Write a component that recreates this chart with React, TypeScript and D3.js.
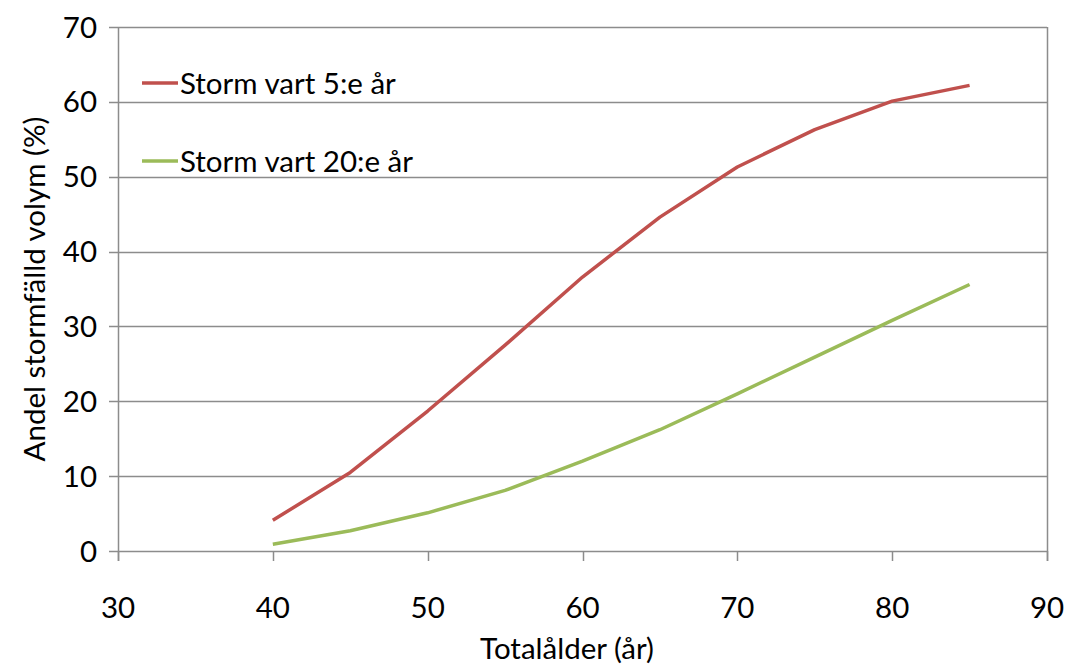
import { useEffect, useRef } from 'react';
import * as d3 from 'd3';

const ages = [40, 45, 50, 55, 60, 65, 70, 75, 80, 85];
const storm5 = [4.1, 10.5, 18.7, 27.5, 36.6, 44.6, 51.3, 56.3, 60.1, 62.2];
const storm20 = [0.9, 2.7, 5.1, 8.1, 12.0, 16.2, 21.0, 25.9, 30.8, 35.6];
const seriesNames = ['Storm vart 5:e år', 'Storm vart 20:e år'];
const seriesColors = ['#C0504D', '#9BBB59'];
const xTicks = [30, 40, 50, 60, 70, 80, 90];
const yTicks = [0, 10, 20, 30, 40, 50, 60, 70];

export default function App() {
  const svgRef = useRef<SVGSVGElement>(null);

  useEffect(() => {
    if (!svgRef.current) return;
    const svg = d3.select(svgRef.current);
    svg.selectAll('*').remove();

    const font = 'Lato, "Open Sans", sans-serif';
    const fontSize = 29.5;
    const grid = '#8c8c8c';

    // plot area in page pixels
    const left = 118, right = 1047, top = 27, bottom = 551;

    const x = d3.scaleLinear().domain([30, 90]).range([left, right]);
    const y = d3.scaleLinear().domain([0, 70]).range([bottom, top]);

    // Horizontal grid lines (extend left as tick marks)
    svg.append('g')
      .selectAll('line')
      .data(yTicks)
      .enter()
      .append('line')
      .attr('x1', left - 9)
      .attr('x2', right)
      .attr('y1', d => Math.round(y(d)) + 0.5)
      .attr('y2', d => Math.round(y(d)) + 0.5)
      .attr('stroke', grid)
      .attr('stroke-width', 1.5);

    // Y axis line and right border
    svg.append('line')
      .attr('x1', left + 0.5).attr('x2', left + 0.5)
      .attr('y1', top).attr('y2', bottom + 10)
      .attr('stroke', grid).attr('stroke-width', 1.5);
    svg.append('line')
      .attr('x1', right + 0.5).attr('x2', right + 0.5)
      .attr('y1', top).attr('y2', bottom + 10)
      .attr('stroke', grid).attr('stroke-width', 1.5);

    // X ticks
    svg.append('g')
      .selectAll('line')
      .data(xTicks)
      .enter()
      .append('line')
      .attr('x1', d => Math.round(x(d)) + 0.5)
      .attr('x2', d => Math.round(x(d)) + 0.5)
      .attr('y1', bottom)
      .attr('y2', bottom + 10)
      .attr('stroke', grid)
      .attr('stroke-width', 1.5);

    // Y tick labels
    svg.append('g')
      .selectAll('text')
      .data(yTicks)
      .enter()
      .append('text')
      .attr('x', 97)
      .attr('y', d => y(d) + 10.5)
      .attr('text-anchor', 'end')
      .attr('font-family', font)
      .attr('font-size', fontSize)
      .attr('fill', '#000')
      .text(d => d);

    // X tick labels
    svg.append('g')
      .selectAll('text')
      .data(xTicks)
      .enter()
      .append('text')
      .attr('x', d => x(d))
      .attr('y', 618)
      .attr('text-anchor', 'middle')
      .attr('font-family', font)
      .attr('font-size', fontSize)
      .attr('fill', '#000')
      .text(d => d);

    // Axis titles
    svg.append('text')
      .attr('x', 567)
      .attr('y', 659)
      .attr('text-anchor', 'middle')
      .attr('font-family', font)
      .attr('font-size', fontSize)
      .attr('fill', '#000')
      .text('Totalålder (år)');

    svg.append('text')
      .attr('transform', 'translate(45,289) rotate(-90)')
      .attr('text-anchor', 'middle')
      .attr('font-family', font)
      .attr('font-size', fontSize)
      .attr('fill', '#000')
      .text('Andel stormfälld volym (%)');

    // Lines
    const line = d3.line<[number, number]>()
      .x(d => x(d[0]))
      .y(d => y(d[1]));

    [storm5, storm20].forEach((vals, i) => {
      const pts = ages.map((a, j) => [a, vals[j]] as [number, number]);
      svg.append('path')
        .datum(pts)
        .attr('fill', 'none')
        .attr('stroke', seriesColors[i])
        .attr('stroke-width', 3.5)
        .attr('stroke-linejoin', 'round')
        .attr('d', line);
    });

    // Legend
    const legendY = [83, 161];
    seriesNames.forEach((name, i) => {
      svg.append('line')
        .attr('x1', 142).attr('x2', 178)
        .attr('y1', legendY[i]).attr('y2', legendY[i])
        .attr('stroke', seriesColors[i])
        .attr('stroke-width', 3.5);
      svg.append('text')
        .attr('x', 180)
        .attr('y', legendY[i] + 10.5)
        .attr('font-family', font)
        .attr('font-size', fontSize)
        .attr('fill', '#000')
        .text(name);
    });
  }, []);

  return (
    <svg
      ref={svgRef}
      width={1067}
      height={668}
      style={{ position: 'fixed', top: 0, left: 0, background: '#fff' }}
    />
  );
}
